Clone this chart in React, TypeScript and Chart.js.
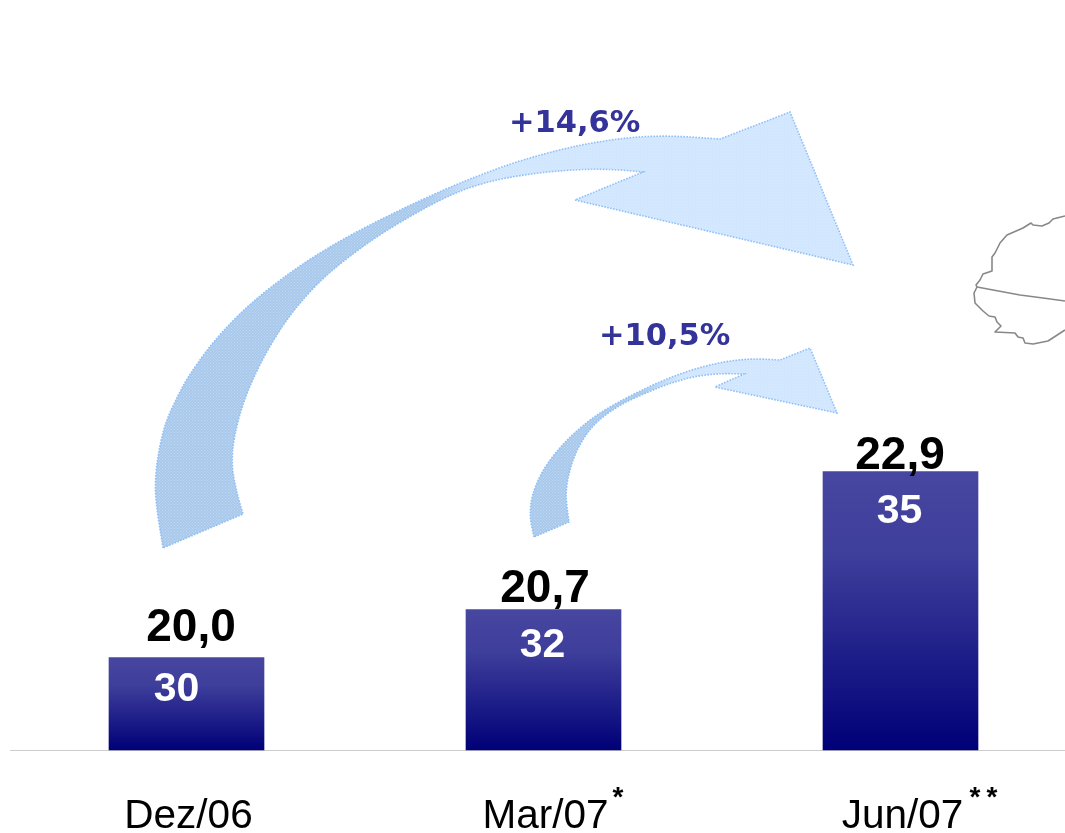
import React, { useEffect, useRef } from "react";
import { Chart, registerables } from "chart.js";

Chart.register(...registerables);

const categories = ["Dez/06", "Mar/07", "Jun/07"];
const footnoteMarks = ["", "*", "**"];
const barValues = [20.0, 20.75, 22.9];
const topLabels = ["20,0", "20,7", "22,9"];
const innerLabels = ["30", "32", "35"];
const growthLabels = ["+14,6%", "+10,5%"];
const yMin = 18.56;
const yMax = 30.25;

type P = [number, number];

const bigOuter: P[] = [[163,548],[151,487],[161,430],[180,390],[197,363],[220,333],[253,300],[297,267],[340,240],[393,213],[447,188],[480,175],[523,159],[580,144],[630,137],[667,135],[720,139]];
const bigHead: P[] = [[790,112],[853,265],[575,200],[643,172]];
const bigInner: P[] = [[643,172],[613,169],[580,169],[530,173],[480,183],[447,195],[380,233],[340,263],[310,290],[283,323],[260,363],[243,400],[233,440],[231,465],[236,490],[243,514]];
const smallOuter: P[] = [[534,537],[529,517],[531,497],[540,473],[557,450],[575,432],[595,415],[622,400],[648,387],[673,376],[700,367],[727,361],[753,358],[780,360]];
const smallHead: P[] = [[810,348],[837,413],[715,387],[744,374]];
const smallInner: P[] = [[744,374],[720,373],[695,376],[673,382],[648,392],[618,405],[595,422],[580,442],[570,467],[564,493],[569,522]];
const mapOutline: P[] = [[1065,216],[1053,219],[1049,223],[1042,226],[1033,225],[1031,223],[1023,228],[1007,235],[1000,243],[995,253],[992,257],[992,271],[983,274],[980,280],[976,285],[977,287],[974,293],[975,303],[978,306],[983,311],[989,316],[995,317],[997,322],[1001,326],[995,332],[1015,333],[1018,337],[1023,338],[1025,343],[1033,344],[1048,341],[1065,330]];
const mapDivider: P[] = [[977,287],[1020,295],[1043,298],[1065,301]];

const topLabelGap = [17, 7, 3];
const topLabelShift = [4.5, 1.5, -0.5];
const innerLabelDrop = [32, 36, 40];
const innerLabelShift = [-10, -1, -1];

function relax(pts: P[]): P[] {
  return pts.map((p, i) =>
    i === 0 || i === pts.length - 1
      ? p
      : ([
          0.2 * pts[i - 1][0] + 0.6 * p[0] + 0.2 * pts[i + 1][0],
          0.2 * pts[i - 1][1] + 0.6 * p[1] + 0.2 * pts[i + 1][1],
        ] as P)
  );
}

function smooth(ctx: CanvasRenderingContext2D, raw: P[]) {
  const pts = relax(raw);
  for (let i = 0; i < pts.length - 1; i++) {
    const p0 = pts[Math.max(i - 1, 0)];
    const p1 = pts[i];
    const p2 = pts[i + 1];
    const p3 = pts[Math.min(i + 2, pts.length - 1)];
    ctx.bezierCurveTo(
      p1[0] + (p2[0] - p0[0]) / 6, p1[1] + (p2[1] - p0[1]) / 6,
      p2[0] - (p3[0] - p1[0]) / 6, p2[1] - (p3[1] - p1[1]) / 6,
      p2[0], p2[1]
    );
  }
}

function drawArrow(ctx: CanvasRenderingContext2D, outer: P[], head: P[], inner: P[], x0: number, x1: number, fade0: number, fade1: number) {
  const cell = document.createElement("canvas");
  cell.width = 3; cell.height = 3;
  const c = cell.getContext("2d")!;
  c.fillStyle = "rgba(255,255,255,0.28)";
  c.fillRect(0, 0, 1, 1);
  c.fillRect(1.5, 1.5, 1, 1);
  const grad = ctx.createLinearGradient(x0, 0, x1, 0);
  const a = (fade0 - x0) / (x1 - x0);
  const b = (fade1 - x0) / (x1 - x0);
  grad.addColorStop(0, "#a9c9ec");
  grad.addColorStop(a, "#a9c9ec");
  grad.addColorStop(b, "#d0e6ff");
  grad.addColorStop(1, "#d0e6ff");
  ctx.save();
  ctx.beginPath();
  ctx.moveTo(outer[0][0], outer[0][1]);
  smooth(ctx, outer);
  head.forEach((p) => ctx.lineTo(p[0], p[1]));
  smooth(ctx, inner);
  ctx.closePath();
  ctx.fillStyle = grad;
  ctx.fill();
  ctx.fillStyle = ctx.createPattern(cell, "repeat")!;
  ctx.fill();
  ctx.strokeStyle = "#8fc0f7";
  ctx.lineWidth = 1.6;
  ctx.setLineDash([1.6, 1.4]);
  ctx.stroke();
  ctx.restore();
}

function drawPolyline(ctx: CanvasRenderingContext2D, pts: P[]) {
  ctx.beginPath();
  pts.forEach((p, i) => (i ? ctx.lineTo(p[0], p[1]) : ctx.moveTo(p[0], p[1])));
  ctx.stroke();
}

const decorations = {
  id: "decorations",
  beforeDatasetsDraw(chart: any) {
    const ctx: CanvasRenderingContext2D = chart.ctx;
    drawArrow(ctx, bigOuter, bigHead, bigInner, 150, 860, 425, 490);
    drawArrow(ctx, smallOuter, smallHead, smallInner, 525, 840, 640, 680);
    ctx.save();
    ctx.strokeStyle = "#888888";
    ctx.lineWidth = 1.6;
    ctx.lineJoin = "round";
    drawPolyline(ctx, mapOutline);
    drawPolyline(ctx, mapDivider);
    ctx.strokeStyle = "#cccccc";
    ctx.lineWidth = 1.2;
    const y0 = chart.chartArea.bottom + 0.5;
    drawPolyline(ctx, [[10, y0], [1065, y0]]);
    ctx.textAlign = "left";
    ctx.textBaseline = "alphabetic";
    ctx.fillStyle = "#333399";
    ctx.font = "bold 30.5px 'DejaVu Sans'";
    ctx.fillText(growthLabels[0], 509, 132);
    ctx.fillText(growthLabels[1], 599, 345);
    ctx.restore();
  },
  afterDatasetsDraw(chart: any) {
    const ctx: CanvasRenderingContext2D = chart.ctx;
    const meta = chart.getDatasetMeta(0);
    ctx.save();
    ctx.textAlign = "center";
    meta.data.forEach((bar: any, i: number) => {
      ctx.textBaseline = "alphabetic";
      ctx.fillStyle = "#000000";
      ctx.font = "bold 46px 'Liberation Sans'";
      ctx.fillText(topLabels[i], bar.x + topLabelShift[i], bar.y - topLabelGap[i]);
      ctx.textBaseline = "middle";
      ctx.fillStyle = "#ffffff";
      ctx.font = "bold 41px 'Liberation Sans'";
      ctx.fillText(innerLabels[i], bar.x + innerLabelShift[i], bar.y + innerLabelDrop[i]);
      if (footnoteMarks[i]) {
        ctx.fillStyle = "#000000";
        ctx.font = "bold 28px 'Liberation Sans'";
        ctx.textAlign = "left";
        ctx.textBaseline = "alphabetic";
        const x = chart.scales.x.getPixelForTick(i) + 69;
        ctx.letterSpacing = "6px";
        ctx.fillText(footnoteMarks[i], x, 806);
        ctx.letterSpacing = "0px";
        ctx.textAlign = "center";
      }
    });
    ctx.restore();
  },
};

export default function App() {
  const ref = useRef<HTMLCanvasElement>(null);
  useEffect(() => {
    const chart = new Chart(ref.current!, {
      type: "bar",
      data: {
        labels: categories,
        datasets: [
          {
            data: barValues,
            base: yMin,
            barThickness: 155,
            clip: false as any,
            backgroundColor: (c: any) => {
              const y = c.chart.scales.y;
              const v = barValues[c.dataIndex];
              const top = y && v !== undefined ? y.getPixelForValue(v) : NaN;
              const bottom = y ? y.bottom : NaN;
              if (!Number.isFinite(top) || !Number.isFinite(bottom)) return "#2a2a90";
              const g = c.chart.ctx.createLinearGradient(0, top, 0, bottom);
              g.addColorStop(0, "#4747a1");
              g.addColorStop(0.3, "#3e3e9b");
              g.addColorStop(1, "#000078");
              return g;
            },
          },
        ],
      },
      options: {
        responsive: false,
        animation: false,
        events: [],
        layout: { padding: { left: 186.5, right: 164.5, top: 0, bottom: 0 } },
        plugins: { legend: { display: false }, tooltip: { enabled: false } },
        scales: {
          x: {
            offset: false,
            grid: { display: false, drawTicks: false },
            border: { display: false },
            afterFit: (s: any) => { s.height = 83; },
            ticks: {
              autoSkip: false,
              maxRotation: 0,
              padding: 43,
              labelOffset: 2,
              color: "#000000",
              font: { family: "'Liberation Sans'", size: 40.5 },
            },
          },
          y: { display: false, min: yMin, max: yMax },
        },
      },
      plugins: [decorations],
    } as any);
    return () => chart.destroy();
  }, []);
  return (
    <canvas
      ref={ref}
      width={1065}
      height={833}
      style={{ position: "absolute", left: 0, top: 0, display: "block" }}
    />
  );
}
